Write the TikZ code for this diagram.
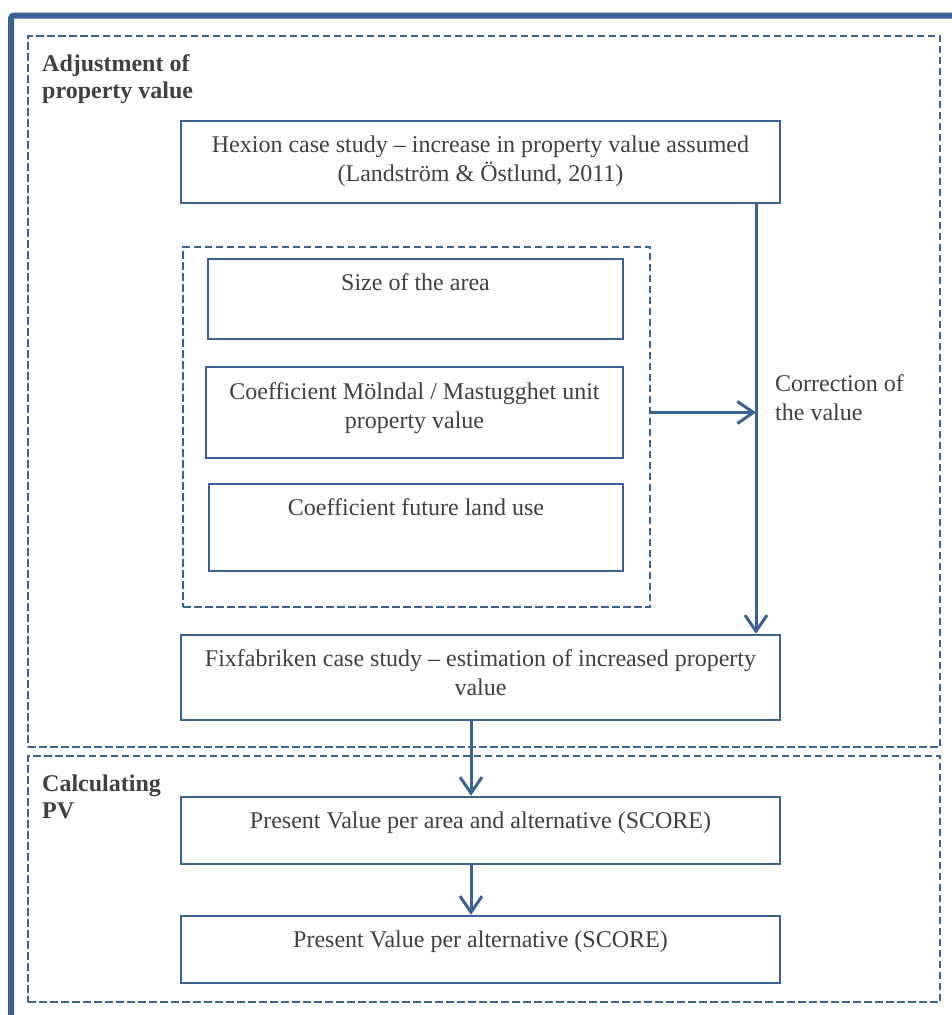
\documentclass[tikz,border=0pt]{standalone}
\usepackage{fontspec}
\setmainfont{Liberation Serif}
\usetikzlibrary{arrows.meta}
\definecolor{frameblue}{HTML}{3B6294}
\definecolor{inkgray}{HTML}{404040}
\begin{document}
\begin{tikzpicture}[x=1pt,y=-1pt,
  box/.style={draw=frameblue,line width=2.4pt,rectangle,inner sep=0pt},
  zone/.style={draw=frameblue,line width=2.8pt,dash pattern=on 7.5pt off 3.5pt,rectangle,inner sep=0pt},
  txt/.style={text=inkgray,font=\fontsize{24}{29}\selectfont,align=center,inner sep=0pt,anchor=base},
  lbl/.style={text=inkgray,font=\fontsize{24}{27}\selectfont\bfseries,align=left,inner sep=0pt,anchor=base west},
  flow/.style={draw=frameblue,line width=3pt,-{Straight Barb[length=16pt,width=22pt,line width=3pt]}}
]
\useasboundingbox (0,0) rectangle (952,1015);
\fill[white] (0,0) rectangle (952,1015);

% heavy outer frame (runs off the page on the right and at the bottom)
\draw[frameblue,line width=6pt,rounded corners=3pt] (11,1030) -- (11,15.5) -- (970,15.5);

% dashed zones
\node[zone,minimum width=912pt,minimum height=711pt] (zoneA) at (484,391.5) {};
\node[zone,minimum width=912pt,minimum height=246pt] (zoneB) at (484,879) {};
% multi-line nodes sit on the baseline of their last line
\node[lbl] (labA) at (42,98) {Adjustment of\\property value};
\node[lbl] (labB) at (42,818) {Calculating\\PV};

% boxes
\node[box,minimum width=599pt,minimum height=82pt] (hex) at (480.5,162) {};
\node[zone,minimum width=467pt,minimum height=360pt] (group) at (416.5,427) {};
\node[box,minimum width=415pt,minimum height=80pt] (size) at (415.5,299) {};
\node[box,minimum width=417pt,minimum height=91pt] (mol) at (414.5,412.5) {};
\node[box,minimum width=414pt,minimum height=87pt] (fut) at (416,527.5) {};
\node[box,minimum width=599pt,minimum height=85pt] (fix) at (480.5,677.5) {};
\node[box,minimum width=599pt,minimum height=67pt] (pva) at (480.5,830.5) {};
\node[box,minimum width=599pt,minimum height=67pt] (pvb) at (480.5,949.5) {};

% box texts
\node[txt] (hexT) at (480.5,181) {Hexion case study -- increase in property value assumed\\(Landström \& Östlund, 2011)};
\node[txt] (sizeT) at (415.5,290) {Size of the area};
\node[txt] (molT) at (414.5,428) {Coefficient Mölndal / Mastugghet unit\\property value};
\node[txt] (futT) at (416,515) {Coefficient future land use};
\node[txt] (fixT) at (480.5,695) {Fixfabriken case study -- estimation of increased property\\value};
\node[txt] (pvaT) at (480.5,828) {Present Value per area and alternative (SCORE)};
\node[txt] (pvbT) at (480.5,947) {Present Value per alternative (SCORE)};
\node[txt,align=left,anchor=base west] (corr) at (775,420) {Correction of\\the value};

% connector columns
\coordinate (colR) at (756,0);
\coordinate (colM) at (471,0);

% connectors
\draw[flow] (hex.south -| colR) -- (fix.north -| colR);
\draw[flow] (mol -| group.east) -- (mol -| colR);
\draw[flow] (fix.south -| colM) -- (pva.north -| colM);
\draw[flow] (pva.south -| colM) -- (pvb.north -| colM);
\end{tikzpicture}
\end{document}
